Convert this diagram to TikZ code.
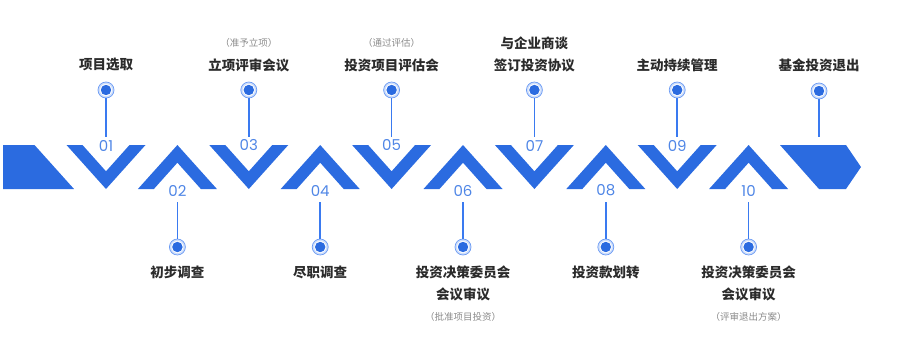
\documentclass[tikz,border=0pt]{standalone}
\usepackage{fontspec}
\setmainfont{Noto Sans CJK SC}
\newfontfamily\numfont{Poppins}
\definecolor{bandblue}{HTML}{2B6BE0}
\definecolor{pinblue}{HTML}{3A7AF0}
\definecolor{numblue}{HTML}{4F86E6}
\definecolor{txt}{HTML}{2B2B2B}
\definecolor{subgray}{HTML}{8A8A8A}
\tikzset{
  band/.style={fill=bandblue,draw=none},
  pinline/.style={draw=pinblue,line width=1.7pt},
  pindot/.style={circle,inner sep=0pt,minimum size=16pt,fill=pinblue!25,draw=pinblue!75,line width=0.7pt,
    path picture={\fill[white] (path picture bounding box.center) circle (6pt);
                  \fill[bandblue] (path picture bounding box.center) circle (5.2pt);}},
  numlbl/.style={font=\numfont\fontsize{15}{15}\selectfont,text=numblue,inner sep=0pt},
  lbl/.style={font=\bfseries\fontsize{13.5}{14}\selectfont,text=txt,inner sep=0pt},
  sublbl/.style={font=\fontsize{9.5}{10}\selectfont,text=subgray,inner sep=0pt}
}
\begin{document}
\begin{tikzpicture}[x=1pt,y=-1pt]
\useasboundingbox (0,0) rectangle (900,346);
% band
\fill[band] (3,145)--(34.5,145)--(74,189)--(3,189)--cycle;
\foreach \c in {106,248.8,391.6,534.4,677.2}{
  \fill[band] (\c-39.5,145)--(\c-23.5,145)--(\c,171.3)--(\c+23.5,145)--(\c+39.5,145)--(\c,189)--cycle;}
\foreach \c in {177.4,320.2,463,605.8,748.6}{
  \fill[band] (\c-39.5,189)--(\c,145)--(\c+39.5,189)--(\c+23.5,189)--(\c,162.7)--(\c-23.5,189)--cycle;}
\fill[band] (780,145)--(846,145)--(861,167)--(846,189)--(819,189)--cycle;
% numbers
\node[numlbl] (n1) at (106,145.5) {01};
\node[numlbl] (n2) at (177.4,190.5) {02};
\node[numlbl] (n3) at (248.8,145.5) {03};
\node[numlbl] (n4) at (320.2,190.5) {04};
\node[numlbl] (n5) at (391.6,145.5) {05};
\node[numlbl] (n6) at (463,190.5) {06};
\node[numlbl] (n7) at (534.4,145.5) {07};
\node[numlbl] (n8) at (605.8,190.5) {08};
\node[numlbl] (n9) at (677.2,145.5) {09};
\node[numlbl] (n10) at (748.6,190.5) {10};
% pins top
\coordinate (e1) at (106,137);
\coordinate (e3) at (248.8,137);
\coordinate (e5) at (391.6,137);
\coordinate (e7) at (534.4,137);
\coordinate (e9) at (677.2,137);
\coordinate (e11) at (819,137);
\node[pindot] (d1) at (106,90) {};
\node[pindot] (d3) at (248.8,90) {};
\node[pindot] (d5) at (391.6,90) {};
\node[pindot] (d7) at (534.4,90) {};
\node[pindot] (d9) at (677.2,90) {};
\node[pindot] (d11) at (819,91) {};
% pins bottom
\coordinate (e2) at (177.4,202);
\coordinate (e4) at (320.2,202);
\coordinate (e6) at (463,202);
\coordinate (e8) at (605.8,202);
\coordinate (e10) at (748.6,202);
\node[pindot] (d2) at (177.4,247) {};
\node[pindot] (d4) at (320.2,247) {};
\node[pindot] (d6) at (463,247) {};
\node[pindot] (d8) at (605.8,247) {};
\node[pindot] (d10) at (748.6,247) {};
\foreach \i in {1,...,11}{\draw[pinline] (d\i) -- (e\i);}
% top labels
\node[lbl] (t1) at (106,65) {项目选取};
\node[sublbl] (s3) at (248.8,43) {（准予立项）};
\node[lbl] (t3) at (248.8,65) {立项评审会议};
\node[sublbl] (s5) at (391.6,43) {（通过评估）};
\node[lbl] (t5) at (391.6,65) {投资项目评估会};
\node[lbl] (t7a) at (534.4,43) {与企业商谈};
\node[lbl] (t7) at (534.4,65) {签订投资协议};
\node[lbl] (t9) at (677.2,65) {主动持续管理};
\node[lbl] (t11) at (819,65) {基金投资退出};
% bottom labels
\node[lbl] (t2) at (177.4,272) {初步调查};
\node[lbl] (t4) at (320.2,272) {尽职调查};
\node[lbl] (t6) at (463,272) {投资决策委员会};
\node[lbl] (t6b) at (463,294) {会议审议};
\node[sublbl] (s6) at (463,317) {（批准项目投资）};
\node[lbl] (t8) at (605.8,272) {投资款划转};
\node[lbl] (t10) at (748.6,272) {投资决策委员会};
\node[lbl] (t10b) at (748.6,294) {会议审议};
\node[sublbl] (s10) at (748.6,317) {（评审退出方案）};
\end{tikzpicture}
\end{document}
